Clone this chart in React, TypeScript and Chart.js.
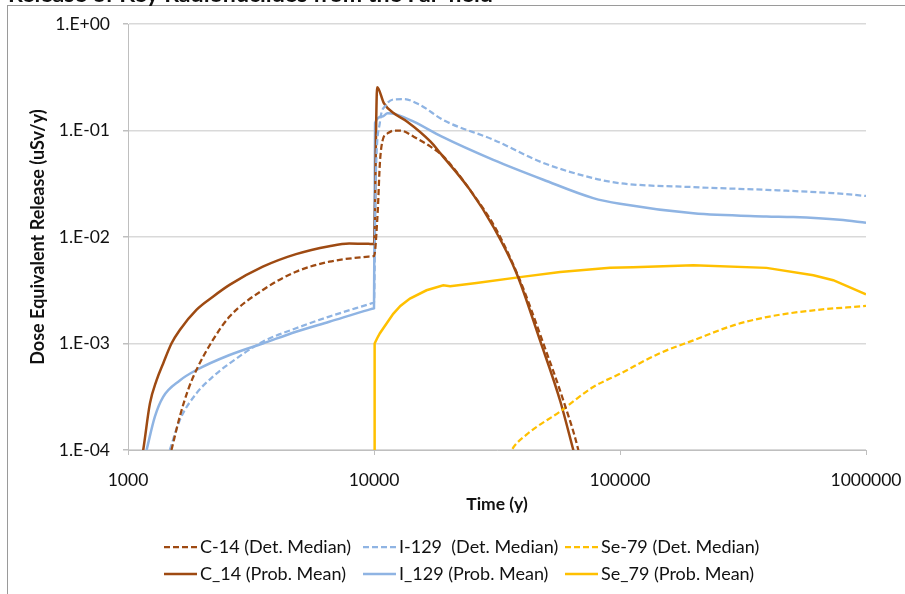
import React, { useEffect, useRef } from 'react';
import { Chart, registerables } from 'chart.js';

Chart.register(...registerables);

// ---------- text ----------
const CHART_TITLE = 'Release of Key Radionuclides from the Far-field';
const X_TITLE = 'Time (y)';
const Y_TITLE = 'Dose Equivalent Release (uSv/y)';

// ---------- ticks ----------
const X_TICKS = [1000, 10000, 100000, 1000000];
const Y_TICKS = [1e-4, 1e-3, 1e-2, 1e-1, 1];

// ---------- series labels ----------
const LABELS = [
  'C-14 (Det. Median)',
  'I-129  (Det. Median)',
  'Se-79 (Det. Median)',
  'C_14 (Prob. Mean)',
  'I_129 (Prob. Mean)',
  'Se_79 (Prob. Mean)',
];

// ---------- data (time in years, dose in uSv/y) ----------
const c14MedT = [1502, 1624, 1754, 1897, 2214, 2587, 3532, 4819, 6579, 9500, 9960, 10000, 10350, 10570, 10910, 11350, 12050, 12800, 14500, 16980, 19170, 24560, 31500, 39200, 48800, 58900, 67700, 72000];
const c14MedV = [1e-4, 2.06e-4, 3.66e-4, 5.64e-4, 1.08e-3, 1.79e-3, 3.18e-3, 4.72e-3, 5.86e-3, 6.55e-3, 6.6e-3, 6.6e-3, 0.017, 0.05, 0.085, 0.094, 0.1, 0.1, 0.0875, 0.0705, 0.0568, 0.0277, 0.0116, 3.93e-3, 1.0e-3, 2.9e-4, 1e-4, 5e-5];

const i129MedT = [1479, 1624, 1897, 2214, 2587, 3532, 4819, 6579, 9500, 9960, 10000, 10150, 10570, 11190, 12050, 13230, 15430, 19170, 30540, 48800, 77800, 100000, 198700, 394000, 736000, 1000000];
const i129MedV = [1e-4, 1.91e-4, 3.4e-4, 4.88e-4, 6.5e-4, 1.04e-3, 1.39e-3, 1.79e-3, 2.33e-3, 2.41e-3, 2.42e-3, 0.03, 0.12, 0.173, 0.196, 0.197, 0.173, 0.125, 0.082, 0.0496, 0.0357, 0.032, 0.0294, 0.0277, 0.0258, 0.0243];

const se79MedT = [33000, 36300, 41800, 57100, 77800, 100000, 145000, 198700, 289000, 394000, 611000, 1000000];
const se79MedV = [6e-5, 1e-4, 1.4e-4, 2.3e-4, 3.9e-4, 5.2e-4, 8.1e-4, 1.07e-3, 1.48e-3, 1.77e-3, 2.05e-3, 2.25e-3];

const c14MeanT = [1110, 1153, 1228, 1306, 1390, 1502, 1624, 1897, 2214, 2587, 3532, 4819, 6579, 7925, 9500, 9960, 10000, 10300, 10980, 12050, 13650, 16980, 18620, 24560, 30540, 38000, 47300, 57100, 64600, 70000];
const c14MeanV = [6e-5, 1e-4, 2.74e-4, 4.5e-4, 6.5e-4, 1.0e-3, 1.34e-3, 2.07e-3, 2.75e-3, 3.55e-3, 5.26e-3, 6.9e-3, 8.2e-3, 8.7e-3, 8.62e-3, 8.6e-3, 8.6e-3, 0.255, 0.18, 0.145, 0.121, 0.0785, 0.061, 0.0277, 0.0125, 4.55e-3, 1.07e-3, 2.9e-4, 1e-4, 5e-5];

const i129MeanT = [1190, 1286, 1390, 1624, 1897, 2587, 3532, 4819, 6579, 9500, 9960, 10000, 10100, 10820, 11350, 12400, 14500, 18800, 30540, 48800, 77800, 100000, 198700, 394000, 506000, 783000, 1000000];
const i129MeanV = [1e-4, 2.06e-4, 3.16e-4, 4.5e-4, 5.64e-4, 7.8e-4, 1.0e-3, 1.29e-3, 1.6e-3, 2.07e-3, 2.13e-3, 2.14e-3, 0.118, 0.135, 0.145, 0.141, 0.121, 0.088, 0.053, 0.0345, 0.0232, 0.0205, 0.0167, 0.0156, 0.0154, 0.0145, 0.0136];

const se79MeanT = [10000, 10060, 10300, 10570, 10980, 11970, 12800, 14000, 16350, 19130, 20400, 26100, 39200, 57100, 91000, 113000, 198700, 394000, 611000, 736000, 1000000];
const se79MeanV = [1e-5, 1.0e-3, 1.12e-3, 1.25e-3, 1.42e-3, 1.9e-3, 2.25e-3, 2.64e-3, 3.16e-3, 3.52e-3, 3.44e-3, 3.7e-3, 4.2e-3, 4.7e-3, 5.13e-3, 5.2e-3, 5.44e-3, 5.13e-3, 4.38e-3, 3.93e-3, 2.9e-3];

// ---------- styles ----------
const BROWN = '#9E4A12';
const BLUE = '#8FB4E3';
const GOLD = '#FFC000';
const FONT = 'Lato, "Liberation Sans", sans-serif';
const TEXT_COLOR = '#111111';

const toPoints = (t: number[], v: number[]) => t.map((x, i) => ({ x, y: v[i] }));

const fmtY = (v: number) => {
  const e = Math.round(Math.log10(v));
  return '1.E' + (e < 0 ? '-' : '+') + String(Math.abs(e)).padStart(2, '0');
};

const frameAndTitle = {
  id: 'frameAndTitle',
  beforeDraw(chart: any) {
    const { ctx, width, height } = chart;
    ctx.save();
    ctx.fillStyle = '#ffffff';
    ctx.fillRect(0, 0, width, height);
    ctx.strokeStyle = '#9a9a9a';
    ctx.lineWidth = 1;
    ctx.strokeRect(7.5, 5.5, width + 10, height + 10);
    ctx.fillStyle = TEXT_COLOR;
    ctx.font = `bold 20px ${FONT}`;
    const w = ctx.measureText(CHART_TITLE).width;
    const size = 20 * 485 / w;
    ctx.font = `bold ${size}px ${FONT}`;
    ctx.textBaseline = 'alphabetic';
    ctx.textAlign = 'left';
    ctx.fillText(CHART_TITLE, 8, 2);
    ctx.restore();
  },
};

const LEG_X = [164, 363, 565];
const LEG_Y = [547, 574];

const customLegend = {
  id: 'customLegend',
  afterDraw(chart: any) {
    const { ctx } = chart;
    ctx.save();
    ctx.font = `18px ${FONT}`;
    ctx.textBaseline = 'middle';
    ctx.textAlign = 'left';
    chart.data.datasets.forEach((ds: any, i: number) => {
      const x = LEG_X[i % 3];
      const y = LEG_Y[Math.floor(i / 3)];
      ctx.strokeStyle = ds.borderColor;
      ctx.lineWidth = ds.borderWidth;
      ctx.setLineDash(ds.borderDash || []);
      ctx.beginPath();
      ctx.moveTo(x, y);
      ctx.lineTo(x + 33, y);
      ctx.stroke();
      ctx.setLineDash([]);
      ctx.fillStyle = TEXT_COLOR;
      ctx.fillText(ds.label, x + 36, y);
    });
    ctx.restore();
  },
};

export default function App() {
  const ref = useRef<HTMLCanvasElement>(null);

  useEffect(() => {
    if (!ref.current) return;
    const dashed = (label: string, color: string, pts: any[]) => ({
      label, data: pts, borderColor: color, backgroundColor: color,
      borderWidth: 2.25, borderDash: [6, 3], pointRadius: 0, fill: false,
      cubicInterpolationMode: 'monotone',
    });
    const solid = (label: string, color: string, pts: any[], smooth = true) => ({
      label, data: pts, borderColor: color, backgroundColor: color,
      borderWidth: 2.5, pointRadius: 0, fill: false,
      ...(smooth ? { cubicInterpolationMode: 'monotone' } : { tension: 0 }),
    });
    const chart = new Chart(ref.current, {
      type: 'line',
      data: {
        datasets: [
          dashed(LABELS[0], BROWN, toPoints(c14MedT, c14MedV)),
          dashed(LABELS[1], BLUE, toPoints(i129MedT, i129MedV)),
          dashed(LABELS[2], GOLD, toPoints(se79MedT, se79MedV)),
          solid(LABELS[3], BROWN, toPoints(c14MeanT, c14MeanV)),
          solid(LABELS[4], BLUE, toPoints(i129MeanT, i129MeanV)),
          solid(LABELS[5], GOLD, toPoints(se79MeanT, se79MeanV), false),
        ] as any,
      },
      options: {
        animation: false,
        responsive: false,
        devicePixelRatio: 1,
        layout: { padding: { left: 0, top: 24, right: 39, bottom: 79 } },
        plugins: {
          legend: { display: false },
          title: { display: false },
          tooltip: { enabled: false },
        },
        scales: {
          x: {
            type: 'logarithmic',
            min: 1000,
            max: 1000000,
            afterBuildTicks: (s: any) => { s.ticks = X_TICKS.map((v) => ({ value: v })); },
            afterFit: (s: any) => { s.height = 65; s.paddingLeft = 0; s.paddingRight = 0; },
            ticks: {
              callback: (v: any) => String(v),
              font: { family: FONT, size: 17.5 },
              color: TEXT_COLOR,
              padding: 15,
              maxRotation: 0,
              autoSkip: false,
            },
            grid: { drawOnChartArea: false, drawTicks: true, tickLength: 5, color: '#bfbfbf' },
            border: { color: '#bfbfbf', width: 1 },
            title: {
              display: true, text: X_TITLE, color: TEXT_COLOR,
              font: { family: FONT, size: 17.5, weight: 'bold' },
              padding: { top: 0, bottom: 0 },
            },
          },
          y: {
            type: 'logarithmic',
            min: 1e-4,
            max: 1,
            afterBuildTicks: (s: any) => { s.ticks = Y_TICKS.map((v) => ({ value: v })); },
            afterFit: (s: any) => { s.width = 128; s.paddingTop = 0; s.paddingBottom = 0; },
            ticks: {
              callback: (v: any) => fmtY(Number(v)),
              font: { family: FONT, size: 17.5 },
              color: TEXT_COLOR,
              padding: 13,
              autoSkip: false,
            },
            grid: { color: '#d9d9d9', tickColor: '#bfbfbf', tickLength: 5, lineWidth: 1.5 },
            border: { color: '#bfbfbf', width: 1 },
            title: {
              display: true, text: Y_TITLE, color: TEXT_COLOR,
              font: { family: FONT, size: 18, weight: 'bold' },
              padding: { top: 27, bottom: 0 },
            },
          },
        },
      } as any,
      plugins: [frameAndTitle, customLegend],
    });
    return () => chart.destroy();
  }, []);

  return (
    <div style={{ position: 'absolute', left: 0, top: 0, width: 905, height: 594 }}>
      <canvas ref={ref} width={905} height={594} style={{ display: 'block' }} />
    </div>
  );
}
